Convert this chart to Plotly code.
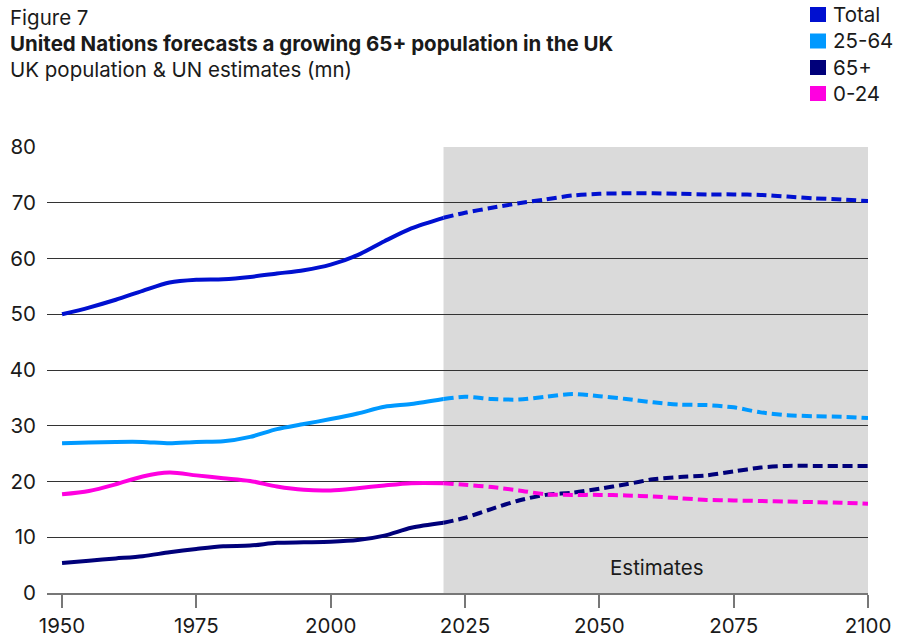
import plotly.graph_objects as go

# UK population by age band (mn): recorded history and UN projections
hist_years = [1950, 1955, 1960, 1965, 1970, 1975, 1980, 1985, 1990, 1995,
              2000, 2005, 2010, 2015, 2021]
hist_total = [50.0, 51.2, 52.6, 54.2, 55.7, 56.2, 56.3, 56.7, 57.3, 57.9,
              58.9, 60.6, 63.1, 65.4, 67.3]
hist_25_64 = [26.85, 27.0, 27.1, 27.1, 26.85, 27.1, 27.2, 28.0, 29.4, 30.3,
              31.2, 32.2, 33.4, 33.9, 34.8]
hist_65_plus = [5.4, 5.8, 6.2, 6.6, 7.3, 7.9, 8.4, 8.5, 9.0, 9.1,
                9.2, 9.5, 10.3, 11.7, 12.6]
hist_0_24 = [17.7, 18.3, 19.5, 20.9, 21.6, 21.1, 20.6, 20.1, 19.1, 18.5,
             18.4, 18.8, 19.3, 19.7, 19.7]

proj_years = [2021, 2025, 2030, 2035, 2040, 2045, 2050, 2055, 2060, 2065,
              2070, 2075, 2080, 2085, 2090, 2095, 2100]
proj_total = [67.3, 68.2, 69.1, 69.9, 70.6, 71.3, 71.6, 71.7, 71.7, 71.6,
              71.5, 71.5, 71.4, 71.1, 70.8, 70.6, 70.3]
proj_25_64 = [34.8, 35.2, 34.8, 34.7, 35.2, 35.7, 35.3, 34.8, 34.2, 33.8,
              33.7, 33.3, 32.4, 31.9, 31.7, 31.6, 31.4]
proj_65_plus = [12.6, 13.5, 15.1, 16.6, 17.6, 18.0, 18.7, 19.5, 20.4, 20.8,
                21.1, 21.8, 22.5, 22.8, 22.8, 22.8, 22.8]
proj_0_24 = [19.7, 19.4, 19.0, 18.4, 17.7, 17.6, 17.6, 17.5, 17.3, 17.0,
             16.7, 16.6, 16.5, 16.4, 16.3, 16.2, 16.0]

series_names = ["Total", "25-64", "65+", "0-24"]
series_colors = ["#0010D0", "#0099FF", "#00007A", "#FF00E0"]
hist_values = [hist_total, hist_25_64, hist_65_plus, hist_0_24]
proj_values = [proj_total, proj_25_64, proj_65_plus, proj_0_24]

estimate_start = 2021
x_ticks = [1950, 1975, 2000, 2025, 2050, 2075, 2100]
y_ticks = [0, 10, 20, 30, 40, 50, 60, 70, 80]

FONT = "Inter"
TEXT = "#1a1a1a"
FS = 20.5

W, H = 910, 641
L, R, T, B = 47, 42, 147, 48
PW, PH = W - L - R, H - T - B


def px_x(x):
    """Horizontal pixel position -> paper fraction."""
    return (x - L) / PW


def px_y(y):
    """Vertical pixel position (from top) -> paper fraction."""
    return (H - y - B) / PH


fig = go.Figure()

# shaded projection period
fig.add_shape(type="rect", xref="x", yref="y", x0=estimate_start, x1=2100,
              y0=0, y1=80, fillcolor="#DADADA", line_width=0, layer="below")

for name, color, hv, pv in zip(series_names, series_colors, hist_values, proj_values):
    fig.add_trace(go.Scatter(x=hist_years, y=hv, mode="lines", name=name,
                             line=dict(color=color, width=4, shape="spline",
                                       smoothing=0.8),
                             showlegend=False, hoverinfo="skip"))
    fig.add_trace(go.Scatter(x=proj_years, y=pv, mode="lines", name=name,
                             line=dict(color=color, width=4, shape="spline",
                                       smoothing=0.8, dash="10px,5px"),
                             showlegend=False, hoverinfo="skip"))

fig.add_annotation(x=2060.8, y=4.5, xref="x", yref="y", text="Estimates",
                   showarrow=False, font=dict(family=FONT, size=FS, color=TEXT))

# title block
titles = [
    ("Figure 7", 3, False),
    ("United Nations forecasts a growing 65+ population in the UK", 29, True),
    ("UK population & UN estimates (mn)", 55, False),
]
for txt, ytop, bold in titles:
    fig.add_annotation(x=px_x(8), y=px_y(ytop), xref="paper", yref="paper",
                       text=f"<b>{txt}</b>" if bold else txt,
                       showarrow=False, xanchor="left", yanchor="top",
                       font=dict(family=FONT, size=FS, color=TEXT))

# legend as colour squares with labels
legend_rows = [14.5, 41, 67.5, 93.5]
for name, color, yc in zip(series_names, series_colors, legend_rows):
    fig.add_shape(type="rect", xref="paper", yref="paper",
                  x0=px_x(810), x1=px_x(826), y0=px_y(yc + 7.5), y1=px_y(yc - 7.5),
                  fillcolor=color, line_width=0)
    fig.add_annotation(x=px_x(831), y=px_y(yc), xref="paper", yref="paper",
                       text=name, showarrow=False, xanchor="left",
                       yanchor="middle",
                       font=dict(family=FONT, size=FS, color=TEXT))

fig.update_layout(
    width=W, height=H,
    margin=dict(l=L, r=R, t=T, b=B),
    paper_bgcolor="white", plot_bgcolor="white",
    font=dict(family=FONT, size=FS, color=TEXT),
    xaxis=dict(range=[1947.2, 2100], tickvals=x_ticks, ticks="outside",
               ticklen=13, tickcolor="#777", tickwidth=1.5, showgrid=False,
               showline=True, linecolor="#777", linewidth=2, zeroline=False,
               automargin=False, tickfont=dict(size=FS, color=TEXT)),
    yaxis=dict(range=[0, 80], tickvals=y_ticks, showgrid=True,
               gridcolor="#333", gridwidth=1, zeroline=False, showline=False,
               ticks="", ticklabelstandoff=10, automargin=False,
               tickfont=dict(size=FS, color=TEXT)),
)

fig.write_html("out.html")
